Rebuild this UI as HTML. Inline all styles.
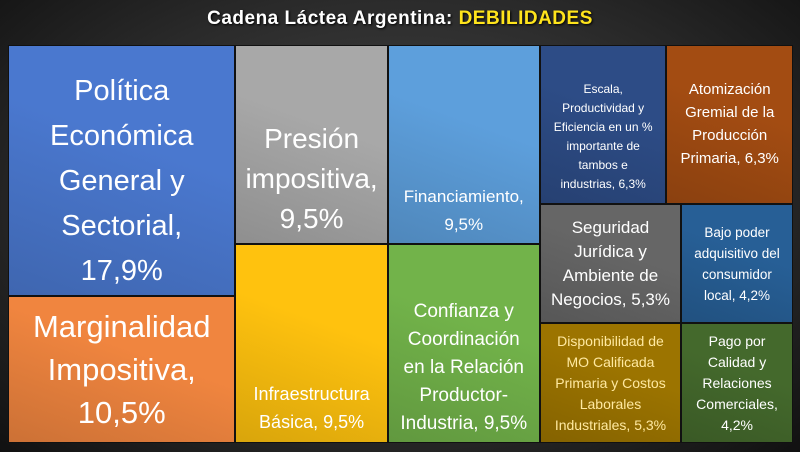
<!DOCTYPE html>
<html><head><meta charset="utf-8">
<style>
html,body{margin:0;padding:0}
body{width:800px;height:452px;overflow:hidden;position:relative;font-family:"Liberation Sans",sans-serif;
background:radial-gradient(ellipse at 50% 45%,#4a4a4a 0%,#2a2a2a 60%,#111 100%);}
#title{position:absolute;left:0;top:8px;width:800px;text-align:center;color:#fff;font-weight:bold;font-size:19px;letter-spacing:0.5px;text-shadow:1px 1px 2px #000}
#title span{color:#FFE41C}
.tile{position:absolute;box-sizing:border-box;border:1px solid #111;display:flex;justify-content:center;text-align:center;overflow:hidden}
.tile div{white-space:pre;}
</style></head><body>
<div id="title">Cadena Láctea Argentina: <span>DEBILIDADES</span></div>
<div id="chart"></div>
<script>
const labels=["Política\nEconómica\nGeneral y\nSectorial","Marginalidad\nImpositiva","Presión\nimpositiva","Infraestructura\nBásica","Financiamiento","Confianza y\nCoordinación\nen la Relación\nProductor-\nIndustria","Escala,\nProductividad y\nEficiencia en un %\nimportante de\ntambos e\nindustrias","Atomización\nGremial de la\nProducción\nPrimaria","Seguridad\nJurídica y\nAmbiente de\nNegocios","Bajo poder\nadquisitivo del\nconsumidor\nlocal","Disponibilidad de\nMO Calificada\nPrimaria y Costos\nLaborales\nIndustriales","Pago por\nCalidad y\nRelaciones\nComerciales"];
const values=[17.9,10.5,9.5,9.5,9.5,9.5,6.3,6.3,5.3,4.2,5.3,4.2];
const valueText=["17,9%","10,5%","9,5%","9,5%","9,5%","9,5%","6,3%","6,3%","5,3%","4,2%","5,3%","4,2%"];
const separators=[",\n",",\n",",\n",", ",",\n",", ",", ",", ",", ",", ",", ",",\n"];
// layout structure: columns -> rows -> tile indices
const groups=[[[0],[1]],[[2],[3]],[[4],[5]],[[6,7],[8,9],[10,11]]];
const colors=["#4a78cf","#f0853f","#a8a8a8","#ffc20e","#5d9fdc","#72b34a","#2d4c86","#a34c12","#666666","#275f96","#9c7400","#44692c"];
const textColors=["#fff","#fff","#fff","#fff","#fff","#fff","#fff","#fff","#fff","#fff","#ffe9a0","#fff"];
const fontSizes=[29,31,28,18,17,19,12,15,17,13.5,14,14];
const lineH=[45,43,40,28,28,28,19,23,24,21,21,21];
const vAlign=["center","center","flex-end","flex-end","flex-end","flex-end","center","center","center","center","center","center"];
const padB=[0,0,4,6,4,4,0,0,0,0,0,0];
const padT=[22,0,0,0,0,0,26,0,0,0,0,0];

const X0=8,Y0=45,W=785,H=398;
const total=values.reduce((a,b)=>a+b,0);
const chart=document.getElementById('chart');
let x=X0;
groups.forEach(col=>{
  const cs=col.flat().reduce((a,i)=>a+values[i],0);
  const cw=cs/total*W;
  let y=Y0;
  col.forEach(row=>{
    const rs=row.reduce((a,i)=>a+values[i],0);
    const rh=rs/cs*H;
    let rx=x;
    row.forEach(i=>{
      const tw=values[i]/rs*cw;
      const el=document.createElement('div');
      el.className='tile';
      
      
      el.style.left=rx+'px';el.style.top=y+'px';el.style.width=tw+'px';el.style.height=rh+'px';
      el.style.background='linear-gradient(200deg,'+colors[i]+' 0%,'+colors[i]+' 40%, color-mix(in srgb,'+colors[i]+' 85%,#000) 100%)';
      el.style.alignItems=vAlign[i];
      el.style.paddingBottom=padB[i]+'px';
      el.style.paddingTop=padT[i]+'px';
      const t=document.createElement('div');
      
      
      t.style.color=textColors[i];t.style.fontSize=fontSizes[i]+'px';t.style.lineHeight=lineH[i]+'px';
      t.textContent=labels[i]+separators[i]+valueText[i];
      el.appendChild(t);
      chart.appendChild(el);
      rx+=tw;
    });
    y+=rh;
  });
  x+=cw;
});
</script>
</body></html>
